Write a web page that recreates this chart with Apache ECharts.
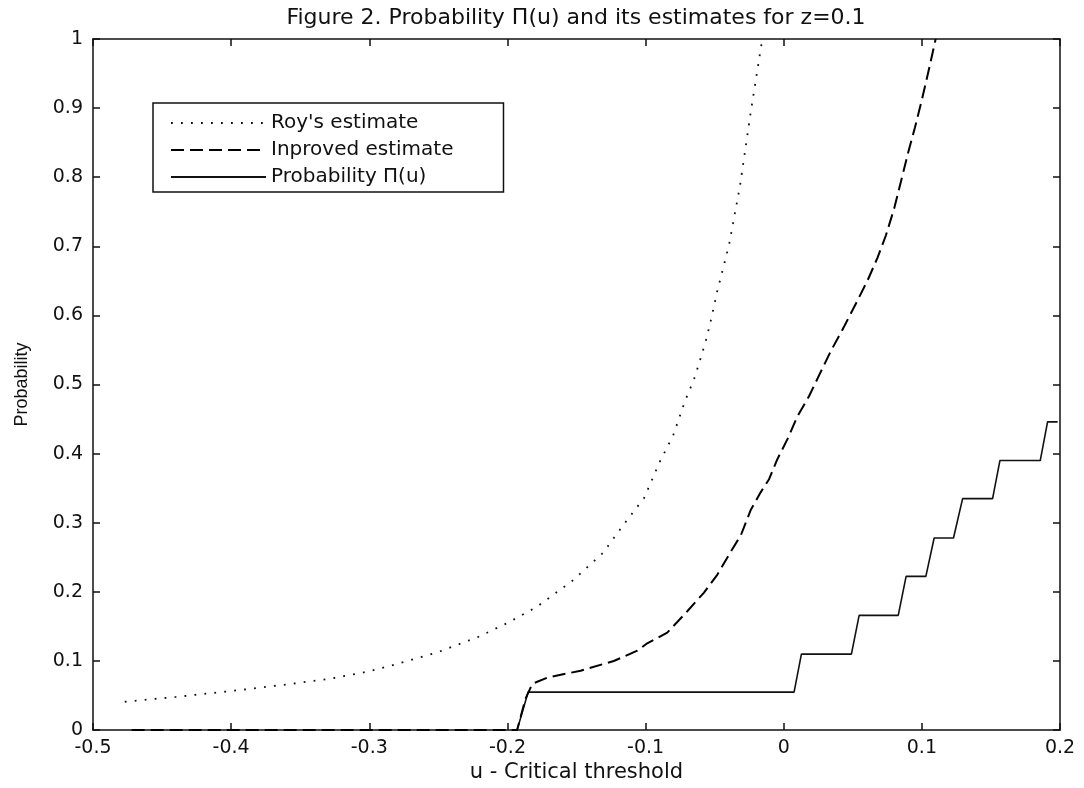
<!DOCTYPE html>
<html>
<head>
<meta charset="utf-8">
<script src="https://cdn.jsdelivr.net/npm/echarts@6/dist/echarts.min.js"></script>
<style>
  html, body { margin: 0; padding: 0; background: #fff; }
  #chart { width: 1084px; height: 788px; }
</style>
</head>
<body>
<div id="chart"></div>
<script>
// ---- Data ----
const titleText = "Figure 2. Probability \u03a0(u) and its estimates for z=0.1";
const xName = "u - Critical threshold";
const yName = "Probability";
const seriesNames = ["Roy's estimate", "Inproved estimate", "Probability \u03a0(u)"];

const xTickLabels = ["-0.5", "-0.4", "-0.3", "-0.2", "-0.1", "0", "0.1", "0.2"];
const yTickLabels = ["0", "0.1", "0.2", "0.3", "0.4", "0.5", "0.6", "0.7", "0.8", "0.9", "1"];

// Roy's estimate (dotted)
const royX = [-0.477, -0.44, -0.398, -0.36, -0.328, -0.3, -0.285, -0.25, -0.221, -0.2, -0.179,
  -0.153, -0.131, -0.116, -0.101, -0.090, -0.080, -0.0715, -0.065, -0.0606, -0.056, -0.0525,
  -0.048, -0.0396, -0.0316, -0.0239, -0.0155];
const royY = [0.041, 0.048, 0.057, 0.066, 0.0745, 0.085, 0.093, 0.113, 0.135, 0.155, 0.178,
  0.216, 0.256, 0.297, 0.336, 0.387, 0.4265, 0.476, 0.507, 0.535, 0.566, 0.595,
  0.636, 0.702, 0.788, 0.894, 1.0];

// Improved estimate (dashed)
const impX = [-0.472, -0.193, -0.187, -0.182, -0.171, -0.147, -0.123, -0.106, -0.0988, -0.0843,
  -0.0698, -0.0577, -0.048, -0.0384, -0.031, -0.024, -0.0167, -0.0106, -0.0046, 0.0027,
  0.0099, 0.0183, 0.026, 0.034, 0.044, 0.053, 0.061, 0.068, 0.074, 0.080, 0.085, 0.090,
  0.095, 0.100, 0.105, 0.110];
const impY = [0, 0, 0.045, 0.067, 0.076, 0.086, 0.100, 0.115, 0.1256, 0.141,
  0.172, 0.199, 0.225, 0.258, 0.282, 0.318, 0.344, 0.363, 0.392, 0.421,
  0.454, 0.483, 0.515, 0.548, 0.585, 0.62, 0.652, 0.684, 0.716, 0.755, 0.795, 0.835,
  0.872, 0.912, 0.955, 1.0];

// Probability Pi(u) (solid, stepped)
const probX = [-0.193, -0.185, 0.0075, 0.0128, 0.049, 0.0546, 0.0829, 0.0886, 0.1029,
  0.1089, 0.1229, 0.1295, 0.1512, 0.1565, 0.1857, 0.191, 0.1983];
const probY = [0, 0.055, 0.055, 0.110, 0.110, 0.166, 0.166, 0.2225, 0.2225,
  0.278, 0.278, 0.335, 0.335, 0.390, 0.390, 0.446, 0.446];

// ---- Chart ----
const xMin = -0.5, xMax = 0.2, xStep = 0.1;
const yMin = 0, yMax = 1, yStep = 0.1;
const zip = (xs, ys) => xs.map((x, i) => [x, ys[i]]);
const ink = '#111';
const font = 'DejaVu Sans';

const xFmt = v => xTickLabels[Math.round((v - xMin) / xStep)] ?? '';
const yFmt = v => yTickLabels[Math.round((v - yMin) / yStep)] ?? '';

const axisCommon = {
  type: 'value',
  axisLine: { show: true, onZero: false, lineStyle: { color: ink, width: 1.5 } },
  axisTick: { show: true, inside: true, length: 7, lineStyle: { color: ink, width: 1.5 } },
  splitLine: { show: false }
};

const chart = echarts.init(document.getElementById('chart'), null, { renderer: 'canvas' });
chart.setOption({
  animation: false,
  backgroundColor: '#fff',
  title: {
    text: titleText,
    left: 571, top: 2, textAlign: 'center',
    textStyle: { fontFamily: font, fontSize: 22, fontWeight: 'normal', color: ink }
  },
  grid: { left: 93, right: 24, top: 39, bottom: 51 },
  legend: {
    orient: 'vertical',
    left: 153, top: 103,
    padding: [10, 50, 5, 17],
    itemWidth: 95, itemHeight: 20, itemGap: 7,
    backgroundColor: '#fff',
    borderColor: ink, borderWidth: 1.5, borderRadius: 0,
    selectedMode: false,
    itemStyle: { opacity: 0, color: 'transparent', borderColor: 'transparent' },
    textStyle: { fontFamily: font, fontSize: 20, color: ink, lineHeight: 20 },
    data: seriesNames
  },
  xAxis: [
    Object.assign({}, axisCommon, {
      min: xMin, max: xMax, interval: xStep, position: 'bottom',
      name: xName, nameLocation: 'middle', nameGap: 29,
      nameTextStyle: { fontFamily: font, fontSize: 21, color: ink },
      axisLabel: { show: true, margin: 8, formatter: xFmt, fontFamily: font, fontSize: 19, color: ink }
    }),
    Object.assign({}, axisCommon, {
      min: xMin, max: xMax, interval: xStep, position: 'top',
      axisLabel: { show: false }
    })
  ],
  yAxis: [
    Object.assign({}, axisCommon, {
      min: yMin, max: yMax, interval: yStep, position: 'left',
      name: yName, nameLocation: 'middle', nameGap: 62, nameRotate: 90,
      nameTextStyle: { fontFamily: 'Liberation Sans', fontSize: 18, color: ink },
      axisLabel: { show: true, margin: 10, formatter: yFmt, fontFamily: font, fontSize: 19, color: ink }
    }),
    Object.assign({}, axisCommon, {
      min: yMin, max: yMax, interval: yStep, position: 'right',
      axisLabel: { show: false }
    })
  ],
  series: [
    {
      name: seriesNames[0], type: 'line', xAxisIndex: 0, yAxisIndex: 0,
      data: zip(royX, royY), symbol: 'none', smooth: false,
      lineStyle: { color: ink, width: 1.8, type: [1.8, 8.2], cap: 'butt' },
      itemStyle: { color: ink }
    },
    {
      name: seriesNames[1], type: 'line', xAxisIndex: 0, yAxisIndex: 0, z: 4,
      data: zip(impX, impY), symbol: 'none', smooth: false,
      lineStyle: { color: '#000', width: 2, type: [13, 6] },
      itemStyle: { color: ink }
    },
    {
      name: seriesNames[2], type: 'line', xAxisIndex: 0, yAxisIndex: 0,
      data: zip(probX, probY), symbol: 'none', smooth: false,
      lineStyle: { color: ink, width: 1.6, type: 'solid' },
      itemStyle: { color: ink }
    }
  ]
});
</script>
</body>
</html>
